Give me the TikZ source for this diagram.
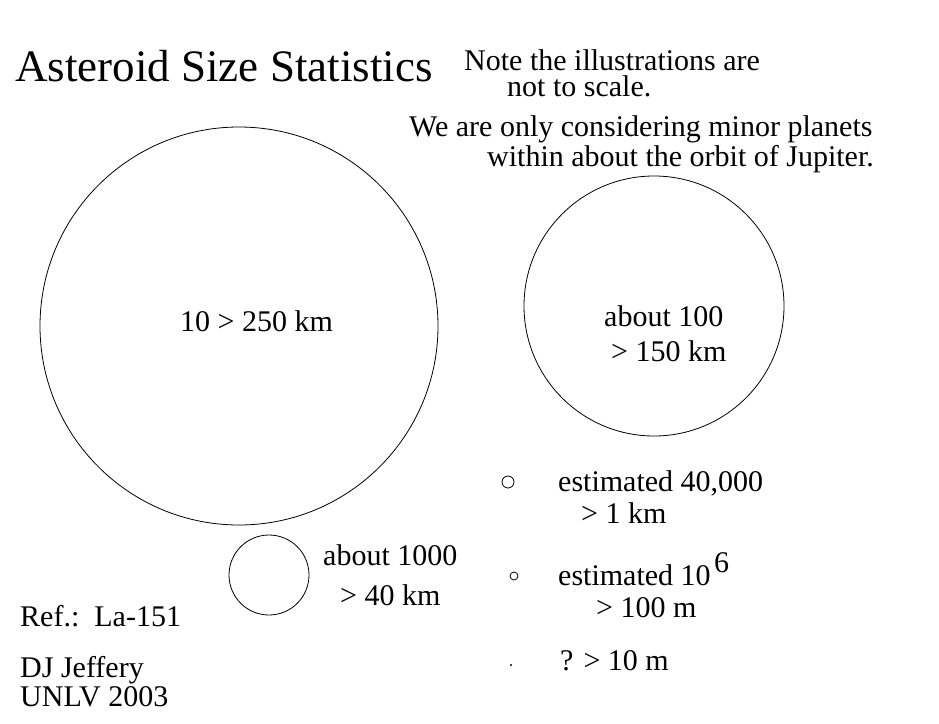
\documentclass[tikz,border=0pt]{standalone}
\usepackage{fontspec}
\setmainfont{Liberation Serif}
\usetikzlibrary{shapes}
\tikzstyle{rock}=[circle,draw,line width=0.8pt,inner sep=0pt]
\tikzstyle{txt}=[anchor=base west,inner sep=0pt,font=\fontsize{30}{30}\selectfont]
\tikzstyle{title}=[anchor=base west,inner sep=0pt,font=\fontsize{45}{45}\selectfont]

\begin{document}
\begin{tikzpicture}[x=1pt, y=-1pt]

    \useasboundingbox (0,0) rectangle (939,723);

    % the circles
    \foreach \x/\y/\d/\name in {239/326/398/big, 654/306/260/mid, 269/575/80/small, 508/482/12/tiny, 514/576/8/tinier}
        \node[rock, minimum size=\d pt] (\name) at (\x,\y) {};
    \fill (511,665) circle (1.2) coordinate (dot);

    % titles and notes
    \node[title] (head) at (15,81) {Asteroid Size Statistics};
    \node[txt] (note) at (464,70) {\vtop{\baselineskip=26pt
        \hbox{Note the illustrations are}\hbox{\hspace*{43pt}not to scale.}}};
    \node[txt] (note3) at (409,136) {We are only considering minor planets};
    \node[txt] (note4) at (487,166) {within about the orbit of Jupiter.};

    % counts
    \node[txt] (bigtxt) at (180,331) {10 > 250 km};
    \node[txt] (midtxt1) at (604,326) {about 100};
    \node[txt] (midtxt2) at (611,361) {> 150 km};
    \node[txt] (smalltxt1) at (323,565) {about 1000};
    \node[txt] (smalltxt2) at (340,605) {> 40 km};
    \node[txt] (tinytxt1) at (558,491) {estimated 40,000};
    \node[txt] (tinytxt2) at (581,523) {> 1 km};
    \node[txt] (tinierTxt1) at (558,585) {estimated 10};
    \node[txt] (power) at (714,572) {6};
    \node[txt] (tinierTxt2) at (596,617) {> 100 m};
    \node[txt] (dottxt) at (560,670) {? > 10 m};

    % credits
    \node[txt] (ref) at (20,626) {Ref.:\ \ La-151};
    \node[txt] (who) at (20,677) {DJ Jeffery};
    \node[txt] (where) at (20,706) {UNLV 2003};

\end{tikzpicture}
\end{document}
